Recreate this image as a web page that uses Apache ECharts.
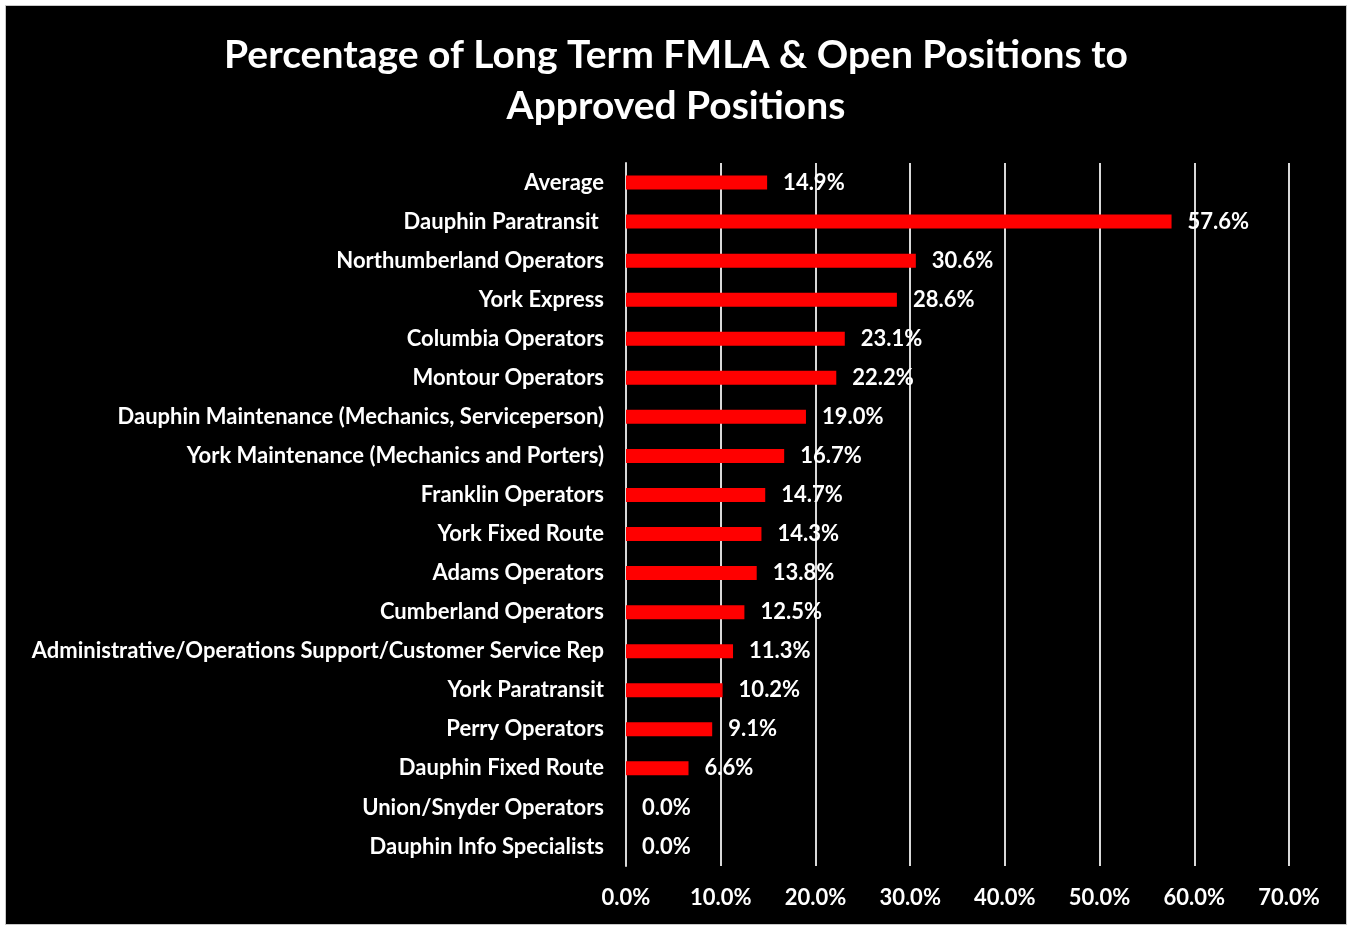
<!DOCTYPE html>
<html>
<head>
<meta charset="utf-8">
<script src="https://cdn.jsdelivr.net/npm/echarts@6/dist/echarts.min.js"></script>
<style>
  html, body { margin: 0; padding: 0; background: #ffffff; }
  #chart {
    position: absolute;
    left: 5px; top: 5px;
    width: 1340px; height: 918px;
    border: 1px solid #c8c8c8;
    background: #000;
  }
</style>
</head>
<body>
<div id="chart"></div>
<script>
const titleText = "Percentage of Long Term FMLA & Open Positions to\nApproved Positions";

const categories = [
  "Average",
  "Dauphin Paratransit ",
  "Northumberland Operators",
  "York Express",
  "Columbia Operators",
  "Montour Operators",
  "Dauphin Maintenance (Mechanics, Serviceperson)",
  "York Maintenance (Mechanics and Porters)",
  "Franklin Operators",
  "York Fixed Route",
  "Adams Operators",
  "Cumberland Operators",
  "Administrative/Operations Support/Customer Service Rep",
  "York Paratransit",
  "Perry Operators",
  "Dauphin Fixed Route",
  "Union/Snyder Operators",
  "Dauphin Info Specialists",
];

const percentValues = [
  14.9, 57.6, 30.6, 28.6, 23.1, 22.2, 19.0, 16.7, 14.7,
  14.3, 13.8, 12.5, 11.3, 10.2, 9.1, 6.6, 0.0, 0.0,
];

const FONT = "Lato";

const chart = echarts.init(document.getElementById("chart"), null, { renderer: "canvas" });

chart.setOption({
  animation: false,
  backgroundColor: "#000000",
  title: {
    text: titleText,
    left: "center",
    top: 19,
    textStyle: {
      color: "#ffffff",
      fontFamily: FONT,
      fontWeight: "bold",
      fontSize: 39,
      lineHeight: 51,
    },
  },
  grid: { left: 620, right: 57, top: 157, bottom: 58 },
  xAxis: {
    type: "value",
    min: 0,
    max: 70,
    interval: 10,
    axisLine: { show: false },
    axisTick: { show: false },
    splitLine: { show: true, lineStyle: { color: "#d9d9d9", width: 2 } },
    axisLabel: {
      color: "#ffffff",
      fontFamily: FONT,
      fontWeight: "bold",
      fontSize: 22,
      margin: 21,
      formatter: (v) => v.toFixed(1) + "%",
    },
  },
  yAxis: {
    type: "category",
    data: categories,
    inverse: true,
    axisLine: { show: true, lineStyle: { color: "#d9d9d9", width: 2 } },
    axisTick: { show: false },
    axisLabel: {
      color: "#ffffff",
      fontFamily: FONT,
      fontWeight: "bold",
      fontSize: 22,
      margin: 22,
    },
  },
  series: [
    {
      type: "bar",
      data: percentValues,
      barWidth: 14,
      itemStyle: { color: "#ff0000" },
      label: {
        show: true,
        position: "right",
        distance: 16,
        color: "#ffffff",
        fontFamily: FONT,
        fontWeight: "bold",
        fontSize: 22,
        formatter: (p) => p.value.toFixed(1) + "%",
      },
    },
  ],
});
</script>
</body>
</html>
